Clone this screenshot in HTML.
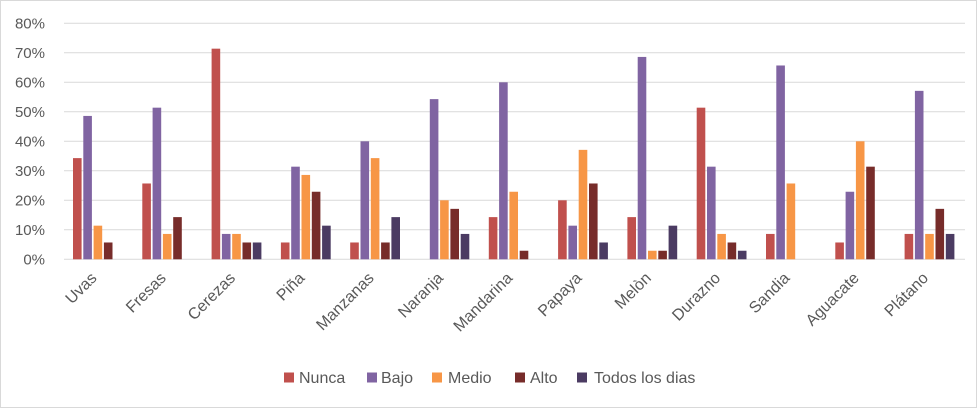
<!DOCTYPE html><html><head><style>body{margin:0;background:#fff}svg{display:block;font-family:"Liberation Sans",sans-serif}
.a{fill:#C0504D}.b{fill:#8064A2}.c{fill:#F79646}.d{fill:#772C2A}.e{fill:#4B3B62}
.t{font-size:15px;fill:#595959}.l{font-size:16px;fill:#595959}</style></head><body>
<svg width="977" height="408" xmlns="http://www.w3.org/2000/svg">
<rect x="0.5" y="0.5" width="976" height="407" fill="#fff" stroke="#d9d9d9"/>
<g stroke="#d9d9d9" stroke-width="1">
<line x1="64" x2="965" y1="23.3" y2="23.3"/><line x1="64" x2="965" y1="52.8" y2="52.8"/><line x1="64" x2="965" y1="82.3" y2="82.3"/><line x1="64" x2="965" y1="111.8" y2="111.8"/><line x1="64" x2="965" y1="141.3" y2="141.3"/><line x1="64" x2="965" y1="170.8" y2="170.8"/><line x1="64" x2="965" y1="200.3" y2="200.3"/><line x1="64" x2="965" y1="229.8" y2="229.8"/><line x1="64" x2="965" y1="259.3" y2="259.3"/>
</g>
<g class="t" text-anchor="end">
<text x="45" y="28.3">80%</text><text x="45" y="57.8">70%</text><text x="45" y="87.3">60%</text><text x="45" y="116.8">50%</text><text x="45" y="146.3">40%</text><text x="45" y="175.8">30%</text><text x="45" y="205.3">20%</text><text x="45" y="234.8">10%</text><text x="45" y="264.3">0%</text>
</g>
<g transform="translate(64 259.3) scale(1 -2.95)"><rect class="a" x="9" y="0" width="8.6" height="34.3"/><rect class="b" x="19.3" y="0" width="8.6" height="48.6"/><rect class="c" x="29.6" y="0" width="8.6" height="11.4"/><rect class="d" x="39.9" y="0" width="8.6" height="5.7"/></g>
<g transform="translate(133.3 259.3) scale(1 -2.95)"><rect class="a" x="9" y="0" width="8.6" height="25.7"/><rect class="b" x="19.3" y="0" width="8.6" height="51.4"/><rect class="c" x="29.6" y="0" width="8.6" height="8.6"/><rect class="d" x="39.9" y="0" width="8.6" height="14.3"/></g>
<g transform="translate(202.6 259.3) scale(1 -2.95)"><rect class="a" x="9" y="0" width="8.6" height="71.4"/><rect class="b" x="19.3" y="0" width="8.6" height="8.6"/><rect class="c" x="29.6" y="0" width="8.6" height="8.6"/><rect class="d" x="39.9" y="0" width="8.6" height="5.7"/><rect class="e" x="50.2" y="0" width="8.6" height="5.7"/></g>
<g transform="translate(271.9 259.3) scale(1 -2.95)"><rect class="a" x="9" y="0" width="8.6" height="5.7"/><rect class="b" x="19.3" y="0" width="8.6" height="31.4"/><rect class="c" x="29.6" y="0" width="8.6" height="28.6"/><rect class="d" x="39.9" y="0" width="8.6" height="22.9"/><rect class="e" x="50.2" y="0" width="8.6" height="11.4"/></g>
<g transform="translate(341.2 259.3) scale(1 -2.95)"><rect class="a" x="9" y="0" width="8.6" height="5.7"/><rect class="b" x="19.3" y="0" width="8.6" height="40"/><rect class="c" x="29.6" y="0" width="8.6" height="34.3"/><rect class="d" x="39.9" y="0" width="8.6" height="5.7"/><rect class="e" x="50.2" y="0" width="8.6" height="14.3"/></g>
<g transform="translate(410.5 259.3) scale(1 -2.95)"><rect class="b" x="19.3" y="0" width="8.6" height="54.3"/><rect class="c" x="29.6" y="0" width="8.6" height="20"/><rect class="d" x="39.9" y="0" width="8.6" height="17.1"/><rect class="e" x="50.2" y="0" width="8.6" height="8.6"/></g>
<g transform="translate(479.8 259.3) scale(1 -2.95)"><rect class="a" x="9" y="0" width="8.6" height="14.3"/><rect class="b" x="19.3" y="0" width="8.6" height="60"/><rect class="c" x="29.6" y="0" width="8.6" height="22.9"/><rect class="d" x="39.9" y="0" width="8.6" height="2.9"/></g>
<g transform="translate(549.1 259.3) scale(1 -2.95)"><rect class="a" x="9" y="0" width="8.6" height="20"/><rect class="b" x="19.3" y="0" width="8.6" height="11.4"/><rect class="c" x="29.6" y="0" width="8.6" height="37.1"/><rect class="d" x="39.9" y="0" width="8.6" height="25.7"/><rect class="e" x="50.2" y="0" width="8.6" height="5.7"/></g>
<g transform="translate(618.4 259.3) scale(1 -2.95)"><rect class="a" x="9" y="0" width="8.6" height="14.3"/><rect class="b" x="19.3" y="0" width="8.6" height="68.6"/><rect class="c" x="29.6" y="0" width="8.6" height="2.9"/><rect class="d" x="39.9" y="0" width="8.6" height="2.9"/><rect class="e" x="50.2" y="0" width="8.6" height="11.4"/></g>
<g transform="translate(687.7 259.3) scale(1 -2.95)"><rect class="a" x="9" y="0" width="8.6" height="51.4"/><rect class="b" x="19.3" y="0" width="8.6" height="31.4"/><rect class="c" x="29.6" y="0" width="8.6" height="8.6"/><rect class="d" x="39.9" y="0" width="8.6" height="5.7"/><rect class="e" x="50.2" y="0" width="8.6" height="2.9"/></g>
<g transform="translate(757 259.3) scale(1 -2.95)"><rect class="a" x="9" y="0" width="8.6" height="8.6"/><rect class="b" x="19.3" y="0" width="8.6" height="65.7"/><rect class="c" x="29.6" y="0" width="8.6" height="25.7"/></g>
<g transform="translate(826.3 259.3) scale(1 -2.95)"><rect class="a" x="9" y="0" width="8.6" height="5.7"/><rect class="b" x="19.3" y="0" width="8.6" height="22.9"/><rect class="c" x="29.6" y="0" width="8.6" height="40"/><rect class="d" x="39.9" y="0" width="8.6" height="31.4"/></g>
<g transform="translate(895.6 259.3) scale(1 -2.95)"><rect class="a" x="9" y="0" width="8.6" height="8.6"/><rect class="b" x="19.3" y="0" width="8.6" height="57.1"/><rect class="c" x="29.6" y="0" width="8.6" height="8.6"/><rect class="d" x="39.9" y="0" width="8.6" height="17.1"/><rect class="e" x="50.2" y="0" width="8.6" height="8.6"/></g>
<g class="l" text-anchor="end">
<text transform="translate(97.6 279) rotate(-45)">Uvas</text>
<text transform="translate(166.9 279) rotate(-45)">Fresas</text>
<text transform="translate(236.2 279) rotate(-45)">Cerezas</text>
<text transform="translate(305.5 279) rotate(-45)">Piña</text>
<text transform="translate(374.8 279) rotate(-45)">Manzanas</text>
<text transform="translate(444.1 279) rotate(-45)">Naranja</text>
<text transform="translate(513.4 279) rotate(-45)">Mandarina</text>
<text transform="translate(582.7 279) rotate(-45)">Papaya</text>
<text transform="translate(652 279) rotate(-45)">Melòn</text>
<text transform="translate(721.3 279) rotate(-45)">Durazno</text>
<text transform="translate(790.6 279) rotate(-45)">Sandia</text>
<text transform="translate(859.9 279) rotate(-45)">Aguacate</text>
<text transform="translate(929.2 279) rotate(-45)">Plátano</text>
</g>
<rect class="a" x="284" y="372.5" width="10" height="10"/><text class="l" x="299" y="383">Nunca</text>
<rect class="b" x="367" y="372.5" width="10" height="10"/><text class="l" x="381" y="383">Bajo</text>
<rect class="c" x="432" y="372.5" width="10" height="10"/><text class="l" x="448" y="383">Medio</text>
<rect class="d" x="515" y="372.5" width="10" height="10"/><text class="l" x="530" y="383">Alto</text>
<rect class="e" x="577" y="372.5" width="10" height="10"/><text class="l" x="594" y="383">Todos los dias</text>
</svg></body></html>
